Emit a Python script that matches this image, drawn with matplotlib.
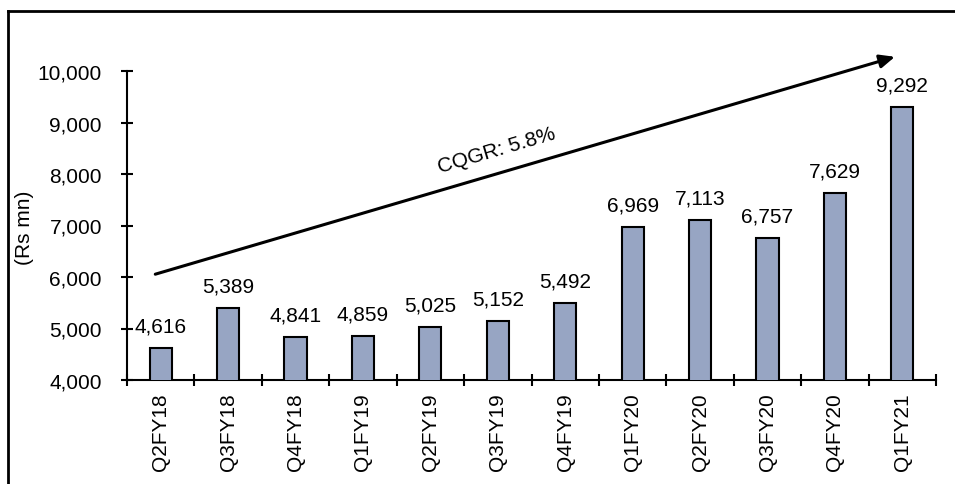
import matplotlib
matplotlib.use("Agg")
import matplotlib.pyplot as plt
from matplotlib.lines import Line2D
from matplotlib.ticker import FuncFormatter, FixedLocator

plt.rcParams['font.family'] = ['Liberation Sans', 'DejaVu Sans']

quarters = ["Q2FY18", "Q3FY18", "Q4FY18", "Q1FY19", "Q2FY19", "Q3FY19",
            "Q4FY19", "Q1FY20", "Q2FY20", "Q3FY20", "Q4FY20", "Q1FY21"]
revenue = [4616, 5389, 4841, 4859, 5025, 5152, 5492, 6969, 7113, 6757, 7629, 9292]
y_ticks = [4000, 5000, 6000, 7000, 8000, 9000, 10000]
cagr_text = "CQGR: 5.8%"

FS = 15

fig = plt.figure(figsize=(9.55, 4.85), dpi=100)
ax = fig.add_axes([127/955, 1-381/485, (936-127)/955, (381-72)/485])

x = list(range(len(quarters)))
ax.bar(x, revenue, width=0.33, color="#97A5C3", edgecolor="black", linewidth=1.5, zorder=3)

for xi, v in zip(x, revenue):
    ax.annotate(f"{v:,}", (xi, v), xytext=(0, 9), textcoords="offset points",
                ha="center", va="bottom", fontsize=FS)

ax.set_xlim(-0.5, len(quarters) - 0.5)
ax.set_ylim(4000, 10000)
ax.set_yticks(y_ticks)
ax.yaxis.set_major_formatter(FuncFormatter(lambda v, p: f"{int(v):,}"))
ax.set_xticks(x)
ax.set_xticklabels(quarters, rotation=90, fontsize=FS)
ax.xaxis.set_minor_locator(FixedLocator([i - 0.5 for i in range(len(quarters) + 1)]))
ax.tick_params(axis="x", which="major", length=0, pad=9)
ax.tick_params(axis="x", which="minor", direction="inout", length=9, width=1.5)
ax.tick_params(axis="y", direction="inout", length=8, width=1.5, labelsize=FS, pad=14)

for s in ["top", "right"]:
    ax.spines[s].set_visible(False)
for s in ["left", "bottom"]:
    ax.spines[s].set_linewidth(1.5)

fig.text(25/955, 1-228/485, "(Rs mn)", rotation=90, ha="center", va="center", fontsize=FS)

ax.annotate("", xy=(10.93, 10291), xytext=(-0.12, 6039),
            arrowprops=dict(arrowstyle="-|>,head_length=0.9,head_width=0.4", color="black", lw=2.2),
            annotation_clip=False)
ax.text(4.99, 8470, cagr_text, rotation=16.4, ha="center", va="center", fontsize=FS,
        rotation_mode="anchor")

fig.add_artist(Line2D([7.5/955, 7.5/955], [0, 1-11.5/485], transform=fig.transFigure, color="black", lw=2))
fig.add_artist(Line2D([7.5/955, 1], [1-11.5/485, 1-11.5/485], transform=fig.transFigure, color="black", lw=2))

fig.savefig("out.png", dpi=100)
